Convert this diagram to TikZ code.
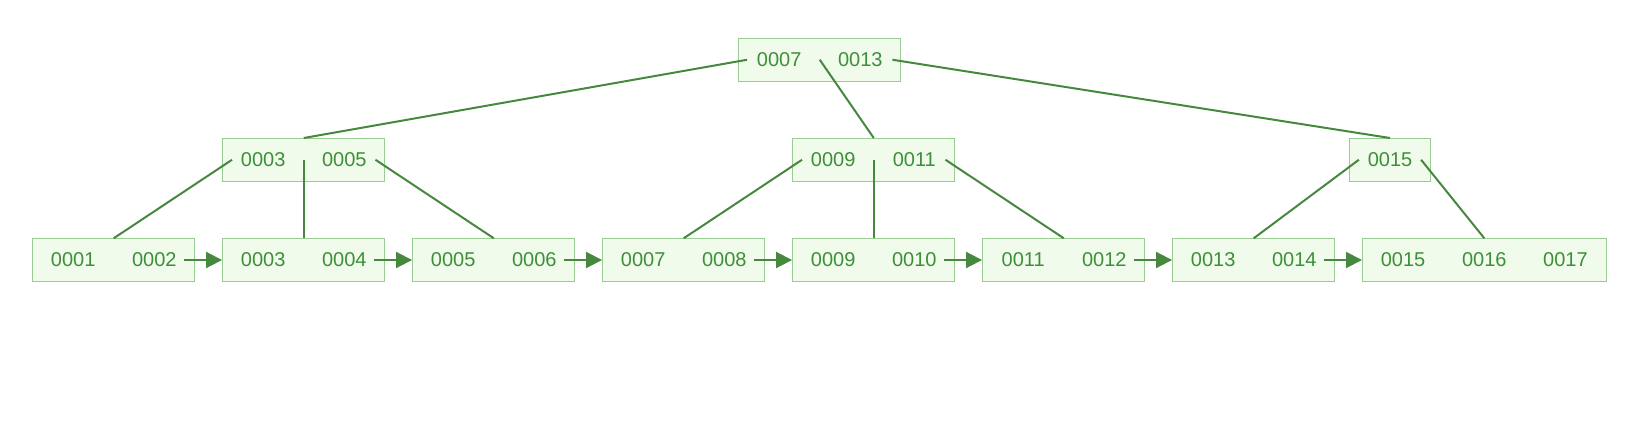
\documentclass[tikz,border=0pt]{standalone}
\usepackage{fontspec}
\setmainfont{Liberation Sans}
\usetikzlibrary{arrows.meta}
\usepackage{xcolor}
\definecolor{keyfill}{HTML}{F0FBEC}
\definecolor{keyedge}{HTML}{9ACD93}
\definecolor{keytext}{HTML}{3D8F38}
\definecolor{ptrline}{HTML}{47883F}
\newcommand{\kslot}[1]{\makebox[40.6pt]{#1}}

\begin{document}
\begin{tikzpicture}[
    x=0.5pt, y=-0.5pt,
    bnode/.style ={
        rectangle,
        fill=keyfill,
        draw=keyedge,
        line width=0.5pt,
        text=keytext,
        inner sep=0pt,
        minimum height=21.25pt,
        font=\fontsize{10pt}{12pt}\selectfont
    },
    ptr/.style ={
        draw=ptrline,
        line width=1pt
    },
    nxt/.style ={
        ptr,
        -{Triangle[length=8pt,width=8pt]}
    }
    ]
    \useasboundingbox (0,0) rectangle (1646,446);

    \node[bnode] (root) at (819.75,59.75) {\kslot{0007}\kslot{0013}};

    \node[bnode] (n03) at (303.75,159.75) {\kslot{0003}\kslot{0005}};
    \node[bnode] (n09) at (873.75,159.75) {\kslot{0009}\kslot{0011}};
    \node[bnode] (n15) at (1390,159.75) {\kslot{0015}};

    \node[bnode] (l01) at (113.75,260) {\kslot{0001}\kslot{0002}};
    \node[bnode] (l03) at (303.75,260) {\kslot{0003}\kslot{0004}};
    \node[bnode] (l05) at (493.75,260) {\kslot{0005}\kslot{0006}};
    \node[bnode] (l07) at (683.75,260) {\kslot{0007}\kslot{0008}};
    \node[bnode] (l09) at (873.75,260) {\kslot{0009}\kslot{0010}};
    \node[bnode] (l11) at (1063.75,260) {\kslot{0011}\kslot{0012}};
    \node[bnode] (l13) at (1253.75,260) {\kslot{0013}\kslot{0014}};
    \node[bnode] (l15) at (1484.3,260) {\kslot{0015}\kslot{0016}\kslot{0017}};

    \draw[ptr] ([xshift=4.5pt]root.west) -- (n03.north);
    \draw[ptr] (root.center) -- (n09.north);
    \draw[ptr] ([xshift=-4.5pt]root.east) -- (n15.north);

    \draw[ptr] ([xshift=5pt]n03.west) -- (l01.north);
    \draw[ptr] (n03.center) -- (l03.north);
    \draw[ptr] ([xshift=-5pt]n03.east) -- (l05.north);

    \draw[ptr] ([xshift=5pt]n09.west) -- (l07.north);
    \draw[ptr] (n09.center) -- (l09.north);
    \draw[ptr] ([xshift=-5pt]n09.east) -- (l11.north);

    \draw[ptr] ([xshift=5pt]n15.west) -- (l13.north);
    \draw[ptr] ([xshift=-5pt]n15.east) -- (l15.north);

    \draw[nxt] ([xshift=-5.5pt]l01.east) -- (l03.west);
    \draw[nxt] ([xshift=-5.5pt]l03.east) -- (l05.west);
    \draw[nxt] ([xshift=-5.5pt]l05.east) -- (l07.west);
    \draw[nxt] ([xshift=-5.5pt]l07.east) -- (l09.west);
    \draw[nxt] ([xshift=-5.5pt]l09.east) -- (l11.west);
    \draw[nxt] ([xshift=-5.5pt]l11.east) -- (l13.west);
    \draw[nxt] ([xshift=-5.5pt]l13.east) -- (l15.west);
\end{tikzpicture}
\end{document}
